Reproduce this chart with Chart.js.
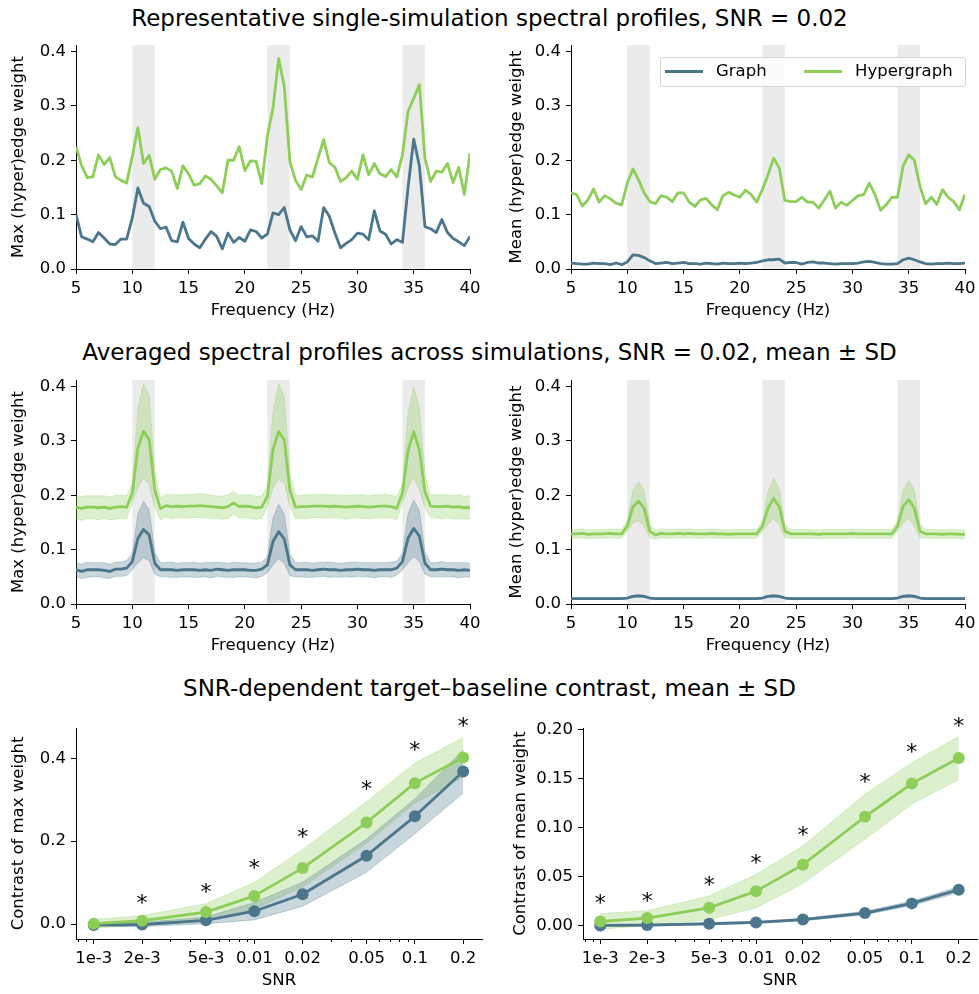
<!DOCTYPE html>
<html>
<head>
<meta charset="utf-8">
<script src="https://cdn.jsdelivr.net/npm/chart.js@4.4.1/dist/chart.umd.min.js"></script>
<style>
  body { margin: 0; width: 979px; height: 994px; background: #fff; position: relative; overflow: hidden; }
  .title { position: absolute; left: 0; width: 979px; text-align: center; font-family: 'DejaVu Sans', sans-serif; font-size: 23px; line-height: 26px; color: #000; white-space: nowrap; }
  canvas { position: absolute; }
  .legend { position: absolute; left: 660px; top: 57px; width: 304px; height: 28px; border: 1px solid #d4d4d4; border-radius: 3px; background: rgba(255,255,255,0.85); font-family: 'DejaVu Sans', sans-serif; font-size: 16.5px; color: #000; }
  .legend .ln { position: absolute; top: 12px; width: 38px; height: 3px; }
  .legend .lt { position: absolute; top: 2px; line-height: 22px; }
</style>
</head>
<body>
<div class="title" style="top:5px">Representative single-simulation spectral profiles, SNR = 0.02</div>
<div class="title" style="top:339px">Averaged spectral profiles across simulations, SNR = 0.02, mean ± SD</div>
<div class="title" style="top:675px">SNR-dependent target–baseline contrast, mean ± SD</div>

<script>
// ---- data ----
const freqs = [5, 5.5, 6, 6.5, 7, 7.5, 8, 8.5, 9, 9.5, 10, 10.5, 11, 11.5, 12, 12.5, 13, 13.5, 14, 14.5,
  15, 15.5, 16, 16.5, 17, 17.5, 18, 18.5, 19, 19.5, 20, 20.5, 21, 21.5, 22, 22.5, 23, 23.5, 24, 24.5,
  25, 25.5, 26, 26.5, 27, 27.5, 28, 28.5, 29, 29.5, 30, 30.5, 31, 31.5, 32, 32.5, 33, 33.5, 34, 34.5,
  35, 35.5, 36, 36.5, 37, 37.5, 38, 38.5, 39, 39.5, 40];
const targetBands = [[10, 12], [22, 24], [34, 36]];
const freqTicks = [5, 10, 15, 20, 25, 30, 35, 40];
const weightTicks = [0, 0.1, 0.2, 0.3, 0.4];

// single simulation
const tlGraph = [0.1, 0.059, 0.055, 0.05, 0.067, 0.057, 0.046, 0.045, 0.055, 0.055,
  0.094, 0.149, 0.121, 0.115, 0.088, 0.074, 0.077, 0.052, 0.05, 0.086,
  0.056, 0.046, 0.039, 0.055, 0.069, 0.06, 0.037, 0.066, 0.049, 0.058,
  0.051, 0.072, 0.069, 0.057, 0.064, 0.103, 0.1, 0.113, 0.072, 0.052,
  0.078, 0.059, 0.061, 0.051, 0.113, 0.097, 0.066, 0.039, 0.047, 0.054,
  0.066, 0.064, 0.054, 0.107, 0.07, 0.064, 0.046, 0.054, 0.049, 0.15,
  0.239, 0.19, 0.078, 0.074, 0.067, 0.091, 0.067, 0.056, 0.05, 0.043,
  0.06];
const tlHyper = [0.225, 0.19, 0.168, 0.17, 0.21, 0.192, 0.205, 0.17, 0.163, 0.158,
  0.207, 0.26, 0.194, 0.209, 0.165, 0.183, 0.186, 0.18, 0.148, 0.19,
  0.175, 0.154, 0.157, 0.171, 0.165, 0.153, 0.14, 0.2, 0.2, 0.225,
  0.181, 0.199, 0.198, 0.157, 0.244, 0.296, 0.387, 0.336, 0.198, 0.163,
  0.146, 0.173, 0.169, 0.204, 0.238, 0.196, 0.187, 0.161, 0.168, 0.18,
  0.165, 0.21, 0.173, 0.194, 0.175, 0.17, 0.183, 0.169, 0.21, 0.29,
  0.314, 0.339, 0.204, 0.161, 0.18, 0.178, 0.194, 0.159, 0.187, 0.137,
  0.213];
const trGraph = [0.011, 0.01, 0.009, 0.009, 0.011, 0.01, 0.01, 0.008, 0.011, 0.008,
  0.013, 0.026, 0.025, 0.021, 0.015, 0.01, 0.011, 0.012, 0.01, 0.011,
  0.012, 0.01, 0.01, 0.009, 0.011, 0.01, 0.009, 0.011, 0.01, 0.01,
  0.011, 0.01, 0.011, 0.012, 0.015, 0.017, 0.017, 0.018, 0.011, 0.012,
  0.012, 0.009, 0.012, 0.013, 0.011, 0.011, 0.01, 0.009, 0.01, 0.01,
  0.01, 0.011, 0.013, 0.014, 0.012, 0.01, 0.009, 0.009, 0.01, 0.017,
  0.02, 0.017, 0.013, 0.01, 0.009, 0.01, 0.01, 0.011, 0.01, 0.01,
  0.011];
const trHyper = [0.14, 0.137, 0.116, 0.127, 0.147, 0.123, 0.135, 0.129, 0.121, 0.118,
  0.158, 0.184, 0.164, 0.14, 0.124, 0.12, 0.135, 0.132, 0.124, 0.14,
  0.14, 0.123, 0.115, 0.127, 0.13, 0.118, 0.109, 0.135, 0.141, 0.136,
  0.132, 0.145, 0.137, 0.123, 0.146, 0.173, 0.204, 0.186, 0.126, 0.124,
  0.124, 0.132, 0.123, 0.123, 0.112, 0.127, 0.143, 0.112, 0.123, 0.117,
  0.126, 0.135, 0.137, 0.158, 0.137, 0.108, 0.118, 0.132, 0.132, 0.189,
  0.21, 0.2, 0.152, 0.12, 0.132, 0.119, 0.146, 0.132, 0.124, 0.109,
  0.137];

// averaged across simulations (mean and SD)
const mlGraphMean = [0.063, 0.060, 0.063, 0.063, 0.063, 0.062, 0.060, 0.064, 0.064, 0.066,
  0.078, 0.121, 0.137, 0.127, 0.075,
  0.063, 0.063, 0.063, 0.062, 0.063, 0.063, 0.063, 0.062, 0.063, 0.062, 0.064, 0.063, 0.062, 0.063, 0.063, 0.063, 0.062, 0.062, 0.064,
  0.072, 0.115, 0.133, 0.120, 0.072,
  0.063, 0.063, 0.063, 0.062, 0.063, 0.064, 0.063, 0.063, 0.062, 0.063, 0.063, 0.064, 0.063, 0.063, 0.062, 0.063, 0.063, 0.063, 0.066,
  0.078, 0.121, 0.139, 0.125, 0.075,
  0.063, 0.063, 0.064, 0.063, 0.063, 0.062, 0.063, 0.062];
const mlGraphSd = [0.013, 0.013, 0.014, 0.013, 0.013, 0.014, 0.013, 0.013, 0.013, 0.014,
  0.015, 0.045, 0.052, 0.047, 0.020,
  0.013, 0.013, 0.014, 0.013, 0.013, 0.013, 0.014, 0.013, 0.013, 0.014, 0.013, 0.013, 0.013, 0.014, 0.013, 0.013, 0.013, 0.014, 0.013,
  0.015, 0.043, 0.050, 0.045, 0.020,
  0.013, 0.013, 0.014, 0.013, 0.013, 0.013, 0.014, 0.013, 0.013, 0.013, 0.014, 0.013, 0.013, 0.013, 0.014, 0.013, 0.013, 0.014, 0.013,
  0.015, 0.045, 0.052, 0.047, 0.020,
  0.013, 0.013, 0.014, 0.013, 0.013, 0.014, 0.013, 0.013];
const mlHyperMean = [0.178, 0.176, 0.178, 0.178, 0.177, 0.178, 0.176, 0.178, 0.179, 0.178,
  0.204, 0.287, 0.318, 0.302, 0.210,
  0.175, 0.181, 0.179, 0.180, 0.179, 0.180, 0.180, 0.181, 0.180, 0.179, 0.178, 0.177, 0.179, 0.186, 0.179, 0.180, 0.179, 0.177, 0.178,
  0.198, 0.284, 0.317, 0.302, 0.210,
  0.178, 0.179, 0.179, 0.180, 0.180, 0.180, 0.179, 0.180, 0.179, 0.178, 0.179, 0.180, 0.179, 0.178, 0.179, 0.180, 0.180, 0.179, 0.176,
  0.204, 0.282, 0.317, 0.284, 0.207,
  0.180, 0.179, 0.179, 0.180, 0.178, 0.179, 0.177, 0.178];
const mlHyperSd = [0.021, 0.022, 0.021, 0.021, 0.022, 0.021, 0.021, 0.022, 0.021, 0.021,
  0.018, 0.072, 0.087, 0.082, 0.032,
  0.020, 0.021, 0.022, 0.021, 0.021, 0.022, 0.021, 0.022, 0.022, 0.021, 0.021, 0.021, 0.022, 0.021, 0.021, 0.021, 0.022, 0.021, 0.021,
  0.018, 0.070, 0.088, 0.080, 0.030,
  0.021, 0.021, 0.022, 0.021, 0.021, 0.022, 0.021, 0.021, 0.021, 0.022, 0.021, 0.021, 0.022, 0.021, 0.021, 0.021, 0.022, 0.021, 0.021,
  0.018, 0.068, 0.083, 0.075, 0.030,
  0.021, 0.021, 0.022, 0.021, 0.021, 0.022, 0.021, 0.021];
const mrGraphMean = [0.010, 0.010, 0.010, 0.010, 0.010, 0.010, 0.010, 0.010, 0.010, 0.010,
  0.011, 0.014, 0.015, 0.014, 0.011,
  0.010, 0.010, 0.010, 0.010, 0.010, 0.010, 0.010, 0.010, 0.010, 0.010, 0.010, 0.010, 0.010, 0.010, 0.010, 0.010, 0.010, 0.010, 0.010,
  0.011, 0.014, 0.015, 0.014, 0.011,
  0.010, 0.010, 0.010, 0.010, 0.010, 0.010, 0.010, 0.010, 0.010, 0.010, 0.010, 0.010, 0.010, 0.010, 0.010, 0.010, 0.010, 0.010, 0.010,
  0.011, 0.014, 0.015, 0.014, 0.011,
  0.010, 0.010, 0.010, 0.010, 0.010, 0.010, 0.010, 0.010];
const mrGraphSd = [0.0015, 0.0015, 0.0015, 0.0015, 0.0015, 0.0015, 0.0015, 0.0015, 0.0015, 0.0015,
  0.0015, 0.002, 0.0025, 0.002, 0.0015,
  0.0015, 0.0015, 0.0015, 0.0015, 0.0015, 0.0015, 0.0015, 0.0015, 0.0015, 0.0015, 0.0015, 0.0015, 0.0015, 0.0015, 0.0015, 0.0015, 0.0015, 0.0015, 0.0015,
  0.0015, 0.002, 0.0025, 0.002, 0.0015,
  0.0015, 0.0015, 0.0015, 0.0015, 0.0015, 0.0015, 0.0015, 0.0015, 0.0015, 0.0015, 0.0015, 0.0015, 0.0015, 0.0015, 0.0015, 0.0015, 0.0015, 0.0015, 0.0015,
  0.0015, 0.002, 0.0025, 0.002, 0.0015,
  0.0015, 0.0015, 0.0015, 0.0015, 0.0015, 0.0015, 0.0015, 0.0015];
const mrHyperMean = [0.129, 0.129, 0.130, 0.128, 0.129, 0.129, 0.129, 0.130, 0.129, 0.129,
  0.143, 0.179, 0.189, 0.176, 0.134,
  0.127, 0.130, 0.129, 0.129, 0.130, 0.129, 0.130, 0.129, 0.129, 0.129, 0.130, 0.129, 0.129, 0.128, 0.129, 0.129, 0.129, 0.129, 0.129,
  0.143, 0.176, 0.194, 0.179, 0.134,
  0.129, 0.129, 0.129, 0.129, 0.129, 0.128, 0.129, 0.129, 0.129, 0.129, 0.129, 0.130, 0.129, 0.129, 0.129, 0.129, 0.129, 0.129, 0.129,
  0.143, 0.179, 0.192, 0.176, 0.134,
  0.129, 0.129, 0.129, 0.128, 0.129, 0.129, 0.128, 0.128];
const mrHyperSd = [0.008, 0.008, 0.008, 0.008, 0.008, 0.008, 0.008, 0.008, 0.008, 0.008,
  0.009, 0.030, 0.036, 0.033, 0.012,
  0.008, 0.008, 0.008, 0.008, 0.008, 0.008, 0.008, 0.008, 0.008, 0.008, 0.008, 0.008, 0.008, 0.008, 0.008, 0.008, 0.008, 0.008, 0.008,
  0.009, 0.030, 0.037, 0.033, 0.012,
  0.008, 0.008, 0.008, 0.008, 0.008, 0.008, 0.008, 0.008, 0.008, 0.008, 0.008, 0.008, 0.008, 0.008, 0.008, 0.008, 0.008, 0.008, 0.008,
  0.009, 0.030, 0.035, 0.033, 0.012,
  0.008, 0.008, 0.008, 0.008, 0.008, 0.008, 0.008, 0.008];

// SNR sweep
const snr = [0.001, 0.002, 0.005, 0.01, 0.02, 0.05, 0.1, 0.2];
const snrLabels = ['1e-3', '2e-3', '5e-3', '0.01', '0.02', '0.05', '0.1', '0.2'];
const snrMinor = [0.0008, 0.0009, 0.003, 0.004, 0.006, 0.007, 0.008, 0.009, 0.03, 0.04, 0.06, 0.07, 0.08, 0.09];
const blGraphMean = [-0.002, -0.001, 0.009, 0.031, 0.072, 0.165, 0.26, 0.368];
const blGraphSd = [0.004, 0.005, 0.008, 0.021, 0.029, 0.04, 0.042, 0.052];
const blHyperMean = [0.001, 0.008, 0.029, 0.068, 0.135, 0.245, 0.34, 0.402];
const blHyperSd = [0.01, 0.012, 0.02, 0.032, 0.045, 0.05, 0.048, 0.048];
const blStars = [null, 0.064, 0.091, 0.149, 0.223, 0.341, 0.434, 0.492];
const brGraphMean = [0.0, 0.0003, 0.0017, 0.003, 0.006, 0.0126, 0.0225, 0.0365];
const brGraphSd = [0.001, 0.001, 0.0008, 0.001, 0.0012, 0.0018, 0.0022, 0.003];
const brHyperMean = [0.004, 0.0075, 0.018, 0.035, 0.062, 0.111, 0.145, 0.171];
const brHyperSd = [0.008, 0.0075, 0.012, 0.017, 0.019, 0.023, 0.021, 0.022];
const brStars = [0.0286, 0.031, 0.0467, 0.0695, 0.098, 0.152, 0.183, 0.21];

// ---- style ----
const GRAPH = [75, 118, 140];
const HYPER = [141, 206, 89];
const rgba = (c, a) => `rgba(${c[0]},${c[1]},${c[2]},${a})`;
const FAMILY = "'DejaVu Sans', sans-serif";
const FSIZE = 16.5;
const LH = FSIZE * 1.2;
const YW = 84, XH = 60, PT = 20, PR = 20;

const pts = (xs, ys) => xs.map((x, i) => ({ x: x, y: ys[i] }));

function lineSet(xs, ys, c, markers) {
  return {
    data: pts(xs, ys), borderColor: rgba(c, 1), backgroundColor: rgba(c, 1),
    borderWidth: 2.8, borderJoinStyle: 'round', fill: false, order: 1,
    pointRadius: markers ? 6 : 0, pointHoverRadius: markers ? 6 : 0, pointBorderWidth: 0
  };
}
function bandSets(xs, mean, sd, c) {
  const lo = mean.map((m, i) => m - sd[i]);
  const hi = mean.map((m, i) => m + sd[i]);
  return [
    { data: pts(xs, lo), borderColor: rgba(c, 0.3), borderWidth: 1, pointRadius: 0, fill: false, order: 5 },
    { data: pts(xs, hi), borderColor: rgba(c, 0.3), borderWidth: 1, pointRadius: 0, fill: '-1', backgroundColor: rgba(c, 0.3), order: 5 }
  ];
}

const shadePlugin = {
  id: 'shade',
  beforeDatasetsDraw(chart) {
    const { ctx, chartArea, scales: { x } } = chart;
    ctx.save();
    ctx.fillStyle = '#ebebeb';
    targetBands.forEach(([a, b]) => {
      const x0 = x.getPixelForValue(a), x1 = x.getPixelForValue(b);
      ctx.fillRect(x0, chartArea.top, x1 - x0, chartArea.bottom - chartArea.top - 0.5);
    });
    ctx.restore();
  }
};

const starPlugin = {
  id: 'stars',
  afterDatasetsDraw(chart, args, opts) {
    const { ctx, scales: { x, y } } = chart;
    ctx.save();
    ctx.font = "22px 'DejaVu Sans'";
    ctx.fillStyle = '#000';
    ctx.textAlign = 'center';
    ctx.textBaseline = 'alphabetic';
    opts.values.forEach((v, i) => {
      if (v == null) return;
      ctx.fillText('*', x.getPixelForValue(snr[i]), y.getPixelForValue(v) + 12.8);
    });
    ctx.restore();
  }
};

const minorTickPlugin = {
  id: 'minorTicks',
  afterDraw(chart) {
    const { ctx, chartArea, scales: { x } } = chart;
    ctx.save();
    ctx.strokeStyle = '#000';
    ctx.lineWidth = 1;
    snrMinor.forEach(v => {
      const px = Math.round(x.getPixelForValue(v)) + 0.5;
      ctx.beginPath();
      ctx.moveTo(px, chartArea.bottom);
      ctx.lineTo(px, chartArea.bottom + 3);
      ctx.stroke();
    });
    ctx.restore();
  }
};

function axis(extra) {
  const font = { family: FAMILY, size: FSIZE };
  return Object.assign({
    ticks: { font: font, color: '#000', padding: 5, maxRotation: 0, autoSkip: false },
    grid: { display: true, drawOnChartArea: false, drawTicks: true, tickLength: 5, color: '#000', tickColor: '#000', tickWidth: 1 },
    border: { display: true, color: '#000', width: 1 }
  }, extra);
}

function panel(box, xCfg, yCfg, datasets, plugins, pluginOpts) {
  const c = document.createElement('canvas');
  const w = box.r - box.l + YW + PR;
  const h = box.b - box.t + PT + XH;
  const left = box.l - YW, top = box.t - PT;
  c.width = w; c.height = h;
  c.style.left = left + 'px'; c.style.top = top + 'px';
  c.style.width = w + 'px'; c.style.height = h + 'px';
  document.body.appendChild(c);

  const font = { family: FAMILY, size: FSIZE };
  const x = axis(xCfg.scale);
  x.afterFit = s => { s.height = XH; };
  x.afterBuildTicks = s => { s.ticks = xCfg.ticks.map(v => ({ value: v })); };
  x.ticks = Object.assign({}, x.ticks, { callback: xCfg.label });
  x.title = { display: true, text: xCfg.title, font: font, color: '#000',
    padding: { top: 0, bottom: top + h - LH / 2 - box.xTitle } };

  const y = axis(yCfg.scale);
  y.afterFit = s => { s.width = YW; };
  y.afterBuildTicks = s => { s.ticks = yCfg.ticks.map(v => ({ value: v })); };
  y.ticks = Object.assign({}, y.ticks, { callback: yCfg.label });
  y.title = { display: true, text: yCfg.title, font: font, color: '#000',
    padding: { top: box.yTitle - left - LH / 2, bottom: 0 } };

  return new Chart(c, {
    type: 'line',
    data: { datasets: datasets },
    options: {
      responsive: false, animation: false, devicePixelRatio: 1, events: [],
      layout: { padding: { left: 0, right: PR, top: PT, bottom: 0 } },
      scales: { x: x, y: y },
      plugins: Object.assign({ legend: { display: false }, tooltip: { enabled: false } }, pluginOpts || {})
    },
    plugins: plugins
  });
}

const freqX = { scale: { type: 'linear', min: 5, max: 40 }, ticks: freqTicks, label: v => String(v), title: 'Frequency (Hz)' };
const weightY = (title) => ({ scale: { type: 'linear', min: 0, max: 0.412 }, ticks: weightTicks, label: v => v.toFixed(1), title: title });
const snrX = { scale: { type: 'logarithmic', min: 0.000775, max: 0.262 }, ticks: snr, label: v => snrLabels[snr.indexOf(v)], title: 'SNR' };

// row 1
panel({ l: 76, t: 45, r: 470, b: 269, yTitle: 19, xTitle: 311 }, freqX, weightY('Max (hyper)edge weight'),
  [lineSet(freqs, tlGraph, GRAPH), lineSet(freqs, tlHyper, HYPER)], [shadePlugin]);
panel({ l: 571, t: 45, r: 965, b: 269, yTitle: 517, xTitle: 311 }, freqX, weightY('Mean (hyper)edge weight'),
  [lineSet(freqs, trGraph, GRAPH), lineSet(freqs, trHyper, HYPER)], [shadePlugin]);

// row 2
panel({ l: 76, t: 380, r: 470, b: 604, yTitle: 19, xTitle: 646 }, freqX, weightY('Max (hyper)edge weight'),
  [...bandSets(freqs, mlGraphMean, mlGraphSd, GRAPH), ...bandSets(freqs, mlHyperMean, mlHyperSd, HYPER),
   lineSet(freqs, mlGraphMean, GRAPH), lineSet(freqs, mlHyperMean, HYPER)], [shadePlugin]);
panel({ l: 571, t: 380, r: 965, b: 604, yTitle: 517, xTitle: 646 }, freqX, weightY('Mean (hyper)edge weight'),
  [...bandSets(freqs, mrGraphMean, mrGraphSd, GRAPH), ...bandSets(freqs, mrHyperMean, mrHyperSd, HYPER),
   lineSet(freqs, mrGraphMean, GRAPH), lineSet(freqs, mrHyperMean, HYPER)], [shadePlugin]);

// row 3
const blLines = [lineSet(snr, blHyperMean, HYPER, true), lineSet(snr, blGraphMean, GRAPH, true)];
blLines[0].order = 0;
panel({ l: 76, t: 728, r: 482, b: 939, yTitle: 19, xTitle: 981 }, snrX,
  { scale: { type: 'linear', min: -0.036, max: 0.473 }, ticks: [0, 0.2, 0.4], label: v => v.toFixed(1), title: 'Contrast of max weight' },
  [...bandSets(snr, blGraphMean, blGraphSd, GRAPH), ...bandSets(snr, blHyperMean, blHyperSd, HYPER), ...blLines],
  [minorTickPlugin, starPlugin], { stars: { values: blStars } });

const brLines = [lineSet(snr, brHyperMean, HYPER, true), lineSet(snr, brGraphMean, GRAPH, true)];
brLines[0].order = 0;
panel({ l: 583, t: 728, r: 977, b: 939, yTitle: 521, xTitle: 981 }, snrX,
  { scale: { type: 'linear', min: -0.0139, max: 0.2017 }, ticks: [0, 0.05, 0.1, 0.15, 0.2], label: v => v.toFixed(2), title: 'Contrast of mean weight' },
  [...bandSets(snr, brGraphMean, brGraphSd, GRAPH), ...bandSets(snr, brHyperMean, brHyperSd, HYPER), ...brLines],
  [minorTickPlugin, starPlugin], { stars: { values: brStars } });
</script>

<div class="legend">
  <span class="ln" style="left:4px; background:rgb(75,118,140)"></span><span class="lt" style="left:55px">Graph</span>
  <span class="ln" style="left:143px; background:rgb(141,206,89)"></span><span class="lt" style="left:194px">Hypergraph</span>
</div>
</body>
</html>
